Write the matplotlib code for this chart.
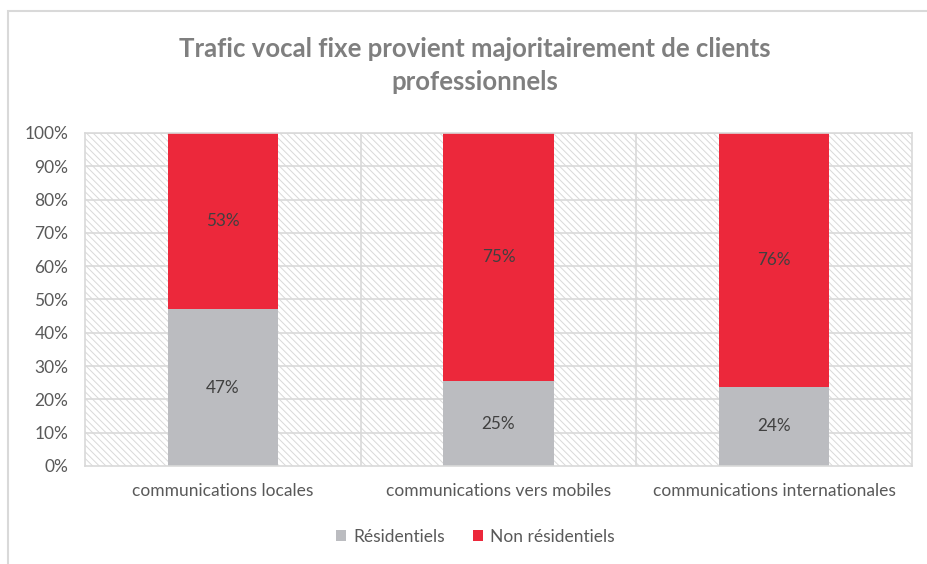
import numpy as np
import matplotlib.pyplot as plt
from matplotlib.patches import Rectangle

categories = ["communications locales", "communications vers mobiles", "communications internationales"]
residentiels = [47.0, 25.4, 23.8]
non_residentiels = [53.0, 74.6, 76.2]
series_names = ["Résidentiels", "Non résidentiels"]
title = "Trafic vocal fixe provient majoritairement de clients\nprofessionnels"

GRIS = "#BBBCC0"
ROUGE = "#EC283B"
TEXTE = "#595959"
GRILLE = "#D9D9D9"

plt.rcParams["font.family"] = ["Lato", "DejaVu Sans"]
plt.rcParams["hatch.linewidth"] = 0.7
plt.rcParams["hatch.color"] = GRILLE

fig = plt.figure(figsize=(9.28, 5.64), dpi=100)
fig.patches.append(Rectangle((8 / 928, -0.1), 1.2, 1 - 11 / 564 + 0.1, transform=fig.transFigure,
                             fill=False, edgecolor=GRILLE, linewidth=1.5))

ax = fig.add_axes([0.0916, 0.1738, 0.8912, 0.5904])
x = np.arange(len(categories))
ax.set_xlim(-0.5, len(categories) - 0.5)
ax.set_ylim(0, 100)

# fond hachuré
ax.add_patch(Rectangle((0, 0), 1, 1, transform=ax.transAxes, facecolor="white",
                       hatch="\\\\\\\\\\", edgecolor=GRILLE, linewidth=0, zorder=0))

for y in range(10, 101, 10):
    ax.axhline(y, color=GRILLE, lw=1.2, zorder=1)
for b in np.arange(0.5, len(categories) - 0.5, 1):
    ax.axvline(b, color=GRILLE, lw=1.2, zorder=1)

ax.bar(x, residentiels, width=0.4, color=GRIS, label=series_names[0], zorder=2)
ax.bar(x, non_residentiels, width=0.4, bottom=residentiels, color=ROUGE, label=series_names[1], zorder=2)

for i in range(len(categories)):
    ax.text(x[i], residentiels[i] / 2, f"{round(residentiels[i])}%", ha="center", va="center",
            fontsize=12.3, color="#404040", zorder=3)
    ax.text(x[i], residentiels[i] + non_residentiels[i] / 2, f"{round(non_residentiels[i])}%",
            ha="center", va="center", fontsize=12.3, color="#404040", zorder=3)

ax.set_yticks(range(0, 101, 10))
ax.set_yticklabels([f"{v}%" for v in range(0, 101, 10)])
ax.set_xticks(x)
ax.set_xticklabels(categories)
ax.tick_params(length=0, colors=TEXTE, labelsize=12.5)
ax.tick_params(axis="x", pad=12)
ax.tick_params(axis="y", pad=12)
for s in ax.spines.values():
    s.set_color(GRILLE)
    s.set_linewidth(1.2)

fig.text(0.512, 0.884, title, ha="center", va="center", fontsize=18.5, fontweight="bold",
         color="#7F7F7F", linespacing=1.45)

fig.legend(loc="center", bbox_to_anchor=(0.512, 0.048), ncol=2, frameon=False,
           fontsize=12.5, labelcolor=TEXTE, handlelength=0.6, handleheight=0.6,
           handletextpad=0.4, columnspacing=1.6)

fig.savefig("out.png", dpi=100)
